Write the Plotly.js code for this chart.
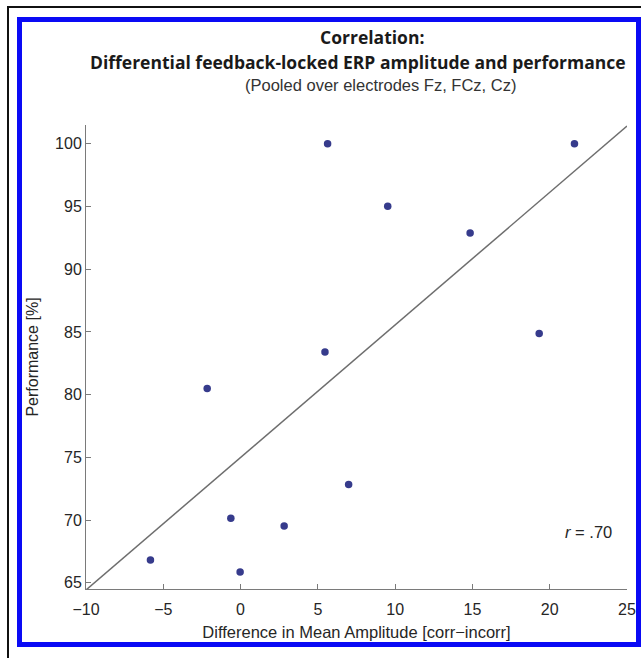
<!DOCTYPE html>
<html>
<head>
<meta charset="utf-8">
<script src="https://cdn.plot.ly/plotly-3.0.1.min.js"></script>
<style>
  html, body { margin: 0; padding: 0; background: #ffffff; width: 641px; height: 658px; overflow: hidden; }
  #frame { position: absolute; left: 7px; top: 6px; width: 800px; height: 800px; border-left: 2px solid #111; border-top: 2px solid #111; }
  #blue { position: absolute; left: 17px; top: 17px; width: 614px; height: 620px; border: 5px solid #0a0af5; }
  #chart { position: absolute; left: 0; top: 0; width: 641px; height: 658px; z-index: 2; }
</style>
</head>
<body>
<div id="frame"></div>
<div id="blue"></div>
<div id="chart"></div>
<script>
// Data
const amplitudeDiff = [5.63, 21.6, 9.52, 14.85, 19.32, 5.46, -2.16, 6.99, -0.63, 2.82, -5.83, -0.03];
const performance   = [100.0, 100.0, 95.03, 92.88, 84.87, 83.4, 80.48, 72.83, 70.14, 69.53, 66.82, 65.86];
const xTicks = [-10, -5, 0, 5, 10, 15, 20, 25];
const yTicks = [65, 70, 75, 80, 85, 90, 95, 100];
const xRange = [-10, 25];
const yRange = [64.5, 101.5];
const titleLine1 = "Correlation:";
const titleLine2 = "Differential feedback-locked ERP amplitude and performance";
const subtitle = "(Pooled over electrodes Fz, FCz, Cz)";
const xTitle = "Difference in Mean Amplitude [corr\u2212incorr]";
const yTitle = "Performance [%]";
const rLabel = "<i>r</i> = .70";

// least-squares fit line derived from the data
const n = amplitudeDiff.length;
const mx = amplitudeDiff.reduce((a, b) => a + b, 0) / n;
const my = performance.reduce((a, b) => a + b, 0) / n;
let sxy = 0, sxx = 0;
for (let i = 0; i < n; i++) { sxy += (amplitudeDiff[i] - mx) * (performance[i] - my); sxx += (amplitudeDiff[i] - mx) ** 2; }
const slope = sxy / sxx, intercept = my - slope * mx;
const fitX = xRange.slice();
const fitY = fitX.map(v => intercept + slope * v);

const L = 86, R = 14, T = 125, B = 69, W = 641, H = 658;
const pw = W - L - R, ph = H - T - B;
const px2x = p => (p - L) / pw;
const py2y = p => (H - B - p) / ph;

const font = "Liberation Sans, Arial, sans-serif";
const titleFont = "Open Sans, sans-serif";

const traces = [
  { x: fitX, y: fitY, mode: "lines", line: { color: "#6e6e6e", width: 1.5 }, hoverinfo: "skip", cliponaxis: false },
  { x: amplitudeDiff, y: performance, mode: "markers", marker: { color: "#363b8c", size: 7.5 }, cliponaxis: false }
];

const axisCommon = {
  showgrid: false, zeroline: false, showline: true, linecolor: "#7a7a7a", linewidth: 1,
  ticks: "inside", ticklen: 5, tickcolor: "#7a7a7a", tickwidth: 1,
  tickfont: { family: font, size: 16, color: "#262626" }, mirror: false
};

const layout = {
  width: W, height: H,
  margin: { l: L, r: R, t: T, b: B, pad: 0 },
  paper_bgcolor: "rgba(0,0,0,0)", plot_bgcolor: "rgba(0,0,0,0)",
  showlegend: false,
  xaxis: Object.assign({}, axisCommon, {
    range: xRange, tickmode: "array", tickvals: xTicks, ticktext: xTicks.map(v => v < 0 ? "\u2212" + Math.abs(v) : String(v)),
    ticklabelstandoff: 6,
    title: { text: xTitle, font: { family: font, size: 16.5, color: "#262626" }, standoff: 9 }
  }),
  yaxis: Object.assign({}, axisCommon, {
    range: yRange, tickmode: "array", tickvals: yTicks, ticktext: yTicks.map(String),
    title: { text: yTitle, font: { family: font, size: 16, color: "#262626" }, standoff: 12 }
  }),
  annotations: [
    { text: "<b>" + titleLine1 + "</b>", xref: "paper", yref: "paper", x: px2x(372), y: py2y(37), xanchor: "center", yanchor: "middle", showarrow: false, font: { family: titleFont, size: 17.5, color: "#1a1a1a" } },
    { text: "<b>" + titleLine2 + "</b>", xref: "paper", yref: "paper", x: px2x(358), y: py2y(62), xanchor: "center", yanchor: "middle", showarrow: false, font: { family: titleFont, size: 17.5, color: "#1a1a1a" } },
    { text: subtitle, xref: "paper", yref: "paper", x: px2x(380), y: py2y(85), xanchor: "center", yanchor: "middle", showarrow: false, font: { family: font, size: 16.5, color: "#333333" } },
    { text: rLabel, xref: "paper", yref: "paper", x: px2x(588), y: py2y(532), xanchor: "center", yanchor: "middle", showarrow: false, font: { family: font, size: 16.5, color: "#262626" } }
  ]
};

Plotly.newPlot("chart", traces, layout, { displayModeBar: false, staticPlot: true });
</script>
</body>
</html>
